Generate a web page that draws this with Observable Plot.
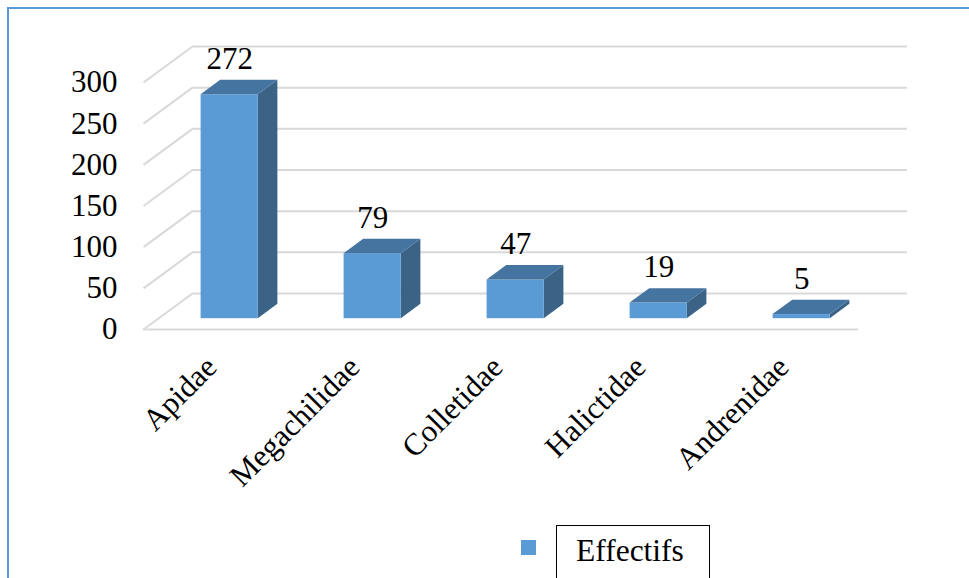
<!DOCTYPE html>
<html>
<head>
<meta charset="utf-8">
<script src="https://cdn.jsdelivr.net/npm/d3@7"></script>
<script src="https://cdn.jsdelivr.net/npm/@observablehq/plot@0.6"></script>
<style>
  html, body { margin: 0; padding: 0; background: #fff; }
  body { width: 969px; height: 578px; position: relative; overflow: hidden; font-family: "Liberation Serif", "Times New Roman", serif; }
  #frame { position: absolute; left: 7px; top: 7px; width: 970px; height: 580px;
           border-top: 2px solid #5b9bd5; border-left: 2px solid #5b9bd5; box-sizing: border-box; }
  #chart { position: absolute; left: 0; top: 0; }
  #legend { position: absolute; left: 521px; top: 525px; display: flex; align-items: flex-start; }
  #legend .swatch { width: 15px; height: 15px; background: #5b9bd5; margin-top: 15px; }
  #legend .box { margin-left: 20px; width: 154px; height: 70px; border: 1.5px solid #000; box-sizing: border-box;
                 font-size: 31.5px; padding: 9px 0 0 19px; line-height: 32px; color: #000; }
</style>
</head>
<body>
<div id="frame"></div>
<div id="chart"></div>
<div id="legend"><div class="swatch"></div><div class="box">Effectifs</div></div>
<script>
// Bee families and their counts
const families = ["Apidae", "Megachilidae", "Colletidae", "Halictidae", "Andrenidae"];
const effectifs = [272, 79, 47, 19, 5];
const yTicks = [0, 50, 100, 150, 200, 250, 300];

// Layout of the pseudo-3D plot area
const W = 969, H = 500;
const mL = 143, mR = 111, mT = 82, mB = 171;
const yMax = 300;
const pxPerX = (W - mL - mR) / families.length;   // pixels per category slot
const pxPerY = (H - mT - mB) / yMax;               // pixels per unit of count
// Depth of the floor, given as a screen offset and converted to data units
const depthX = 49 / pxPerX;
const depthY = 36 / pxPerY;
// Bars occupy the middle of each slot and the middle of the floor depth
const b0 = 0.3, b1 = 0.7, t0 = 0.3, t1 = 0.7;

const bars = families.map((name, i) => ({name, i, v: effectifs[i]}));

// Front faces
const frontFaces = bars.map(d => ({
  x1: d.i + b0 + t0 * depthX, x2: d.i + b1 + t0 * depthX,
  y1: t0 * depthY, y2: d.v + t0 * depthY
}));

// Top faces (parallelograms) as areas over x
const topFaces = bars.flatMap(d => {
  const yf = d.v + t0 * depthY, yb = d.v + t1 * depthY;
  return [
    {k: d.i, x: d.i + b0 + t0 * depthX, y1: yf, y2: yf},
    {k: d.i, x: d.i + b0 + t1 * depthX, y1: yf, y2: yb},
    {k: d.i, x: d.i + b1 + t0 * depthX, y1: yf, y2: yb},
    {k: d.i, x: d.i + b1 + t1 * depthX, y1: yb, y2: yb}
  ];
});

// Right side faces
const sideFaces = bars.flatMap(d => [
  {k: d.i, x: d.i + b1 + t0 * depthX, y1: t0 * depthY, y2: d.v + t0 * depthY},
  {k: d.i, x: d.i + b1 + t1 * depthX, y1: t1 * depthY, y2: d.v + t1 * depthY}
]);

const gridColor = "#d9d9d9";

const chart = Plot.plot({
  width: W, height: H,
  marginLeft: mL, marginRight: mR, marginTop: mT, marginBottom: mB,
  style: {fontFamily: "'Liberation Serif', 'Times New Roman', serif", color: "#000", background: "transparent", overflow: "visible"},
  x: {domain: [0, families.length], axis: null},
  y: {domain: [0, yMax], axis: null},
  marks: [
    // Side wall gridlines (slanted) and back wall gridlines
    Plot.link(yTicks, {x1: 0, y1: d => d, x2: depthX, y2: d => d + depthY, stroke: gridColor, strokeWidth: 2}),
    Plot.ruleY(yTicks, {y: d => d + depthY, x1: depthX, x2: families.length + depthX, stroke: gridColor, strokeWidth: 2}),
    // Front edge of the floor
    Plot.ruleY([0], {x1: 0, x2: families.length, stroke: gridColor, strokeWidth: 2}),
    // Bars
    Plot.areaY(sideFaces, {x: "x", y1: "y1", y2: "y2", z: "k", fill: "#3a6386", curve: "linear"}),
    Plot.rect(frontFaces, {x1: "x1", x2: "x2", y1: "y1", y2: "y2", fill: "#5b9bd5"}),
    Plot.areaY(topFaces, {x: "x", y1: "y1", y2: "y2", z: "k", fill: "#44749f", curve: "linear"}),
    // Value labels
    Plot.text(bars, {
      x: d => d.i + 0.5 + t0 * depthX, y: d => d.v + t0 * depthY,
      text: d => String(d.v), dy: -26, lineAnchor: "bottom",
      fontSize: 31, fill: "#000"
    }),
    // Y axis tick labels
    Plot.text(yTicks, {
      x: 0, y: d => d, text: d => String(d), textAnchor: "end", dx: -26,
      fontSize: 31, fill: "#000"
    }),
    // Category labels, rotated
    Plot.text(bars, {
      x: d => d.i + 0.5, y: 0, text: "name", rotate: -45,
      textAnchor: "end", lineAnchor: "top", dx: -12, dy: 24,
      fontSize: 31, fill: "#000"
    })
  ]
});

document.getElementById("chart").appendChild(chart);
</script>
</body>
</html>
